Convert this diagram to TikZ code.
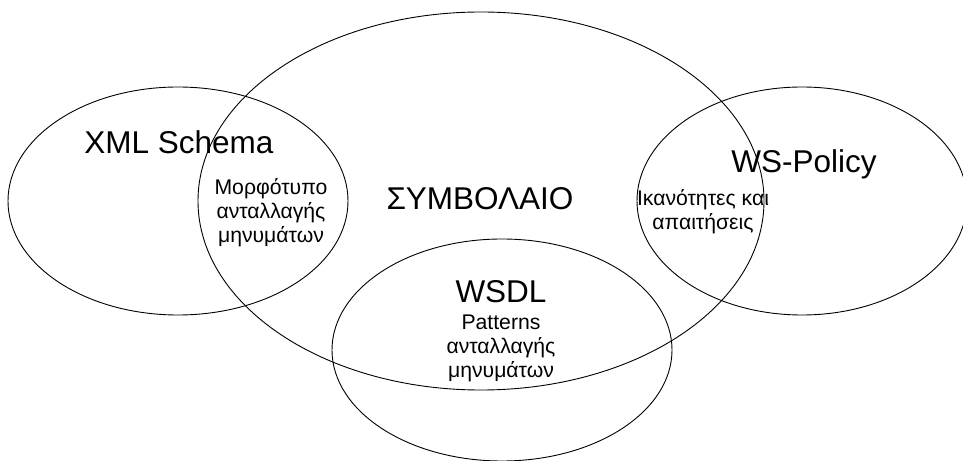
\documentclass[tikz,border=0pt]{standalone}
\usepackage{fontspec}
\setmainfont{Liberation Sans}
\usetikzlibrary{shapes.geometric}
\tikzset{
  venn/.style={draw=black, line width=0.9bp, ellipse, inner sep=0pt, fill=none},
  bigtitle/.style={inner sep=0pt, font=\fontsize{31.5bp}{36bp}\selectfont},
  smalltext/.style={inner sep=0pt, align=center, font=\fontsize{21.2bp}{24bp}\selectfont},
}
\begin{document}
\begin{tikzpicture}[x=1bp, y=-1bp]
  \useasboundingbox (0,0) rectangle (963,461);
  \clip (0,0) rectangle (963,461);
  % the four overlapping sets
  \node[venn, minimum width=566bp, minimum height=378bp] (contract) at (481,201) {};
  \node[venn, minimum width=340bp, minimum height=228bp] (xsd) at (178,201) {};
  \node[venn, minimum width=330bp, minimum height=228bp] (policy) at (802,201) {};
  \node[venn, minimum width=340bp, minimum height=222bp] (wsdl) at (502,350) {};
  % set names
  \node[bigtitle, anchor=base] (xsdname) at (179,154) {XML Schema};
  \node[bigtitle, anchor=base] (contractname) at (480,210) {ΣΥΜΒΟΛΑΙΟ};
  \node[bigtitle, anchor=base] (policyname) at (804,173) {WS-Policy};
  \node[bigtitle, anchor=base] (wsdlname) at (501,303) {WSDL};
  % overlap descriptions
  \node[smalltext] (format) at (271,213) {Μορφότυπο\\ανταλλαγής\\μηνυμάτων};
  \node[smalltext] (caps) at (703,212) {Ικανότητες και\\απαιτήσεις};
  \node[smalltext] (patterns) at (501,348) {Patterns\\ανταλλαγής\\μηνυμάτων};
\end{tikzpicture}
\end{document}
